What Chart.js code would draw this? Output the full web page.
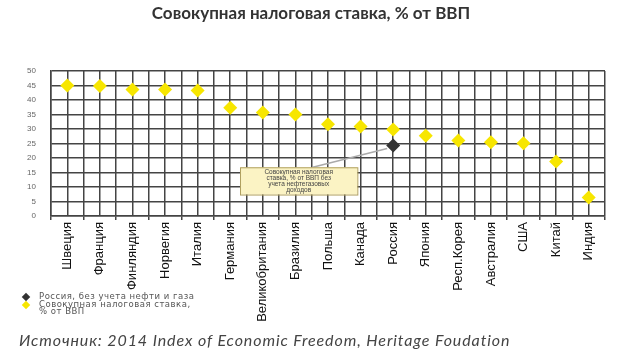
<!DOCTYPE html>
<html lang="ru">
<head>
<meta charset="UTF-8">
<title>Совокупная налоговая ставка</title>
<script src="https://cdn.jsdelivr.net/npm/chart.js"></script>
<style>
    body {
        margin: 0;
        padding: 0;
        background: #fff;
        font-family: "Liberation Sans", Arial, sans-serif;
    }
    .wrap {
        position: relative;
        width: 620px;
        height: 363px;
        overflow: hidden;
    }
    .title {
        position: absolute;
        left: 0;
        width: 622px;
        top: 2px;
        text-align: center;
        font-family: Lato, sans-serif;
        font-weight: bold;
        font-size: 17px;
        color: #333;
    }
    .legend {
        position: absolute;
        left: 18px;
        top: 293px;
        font-family: "DejaVu Sans", sans-serif;
        font-size: 8.5px;
        letter-spacing: 0.5px;
        color: #555;
        line-height: 7.5px;
    }
    .legend .item {
        position: relative;
        padding-left: 21px;
    }
    .legend .mark {
        position: absolute;
        left: 5px;
        top: 1px;
        width: 6px;
        height: 6px;
        transform: rotate(45deg);
    }
    .source {
        position: absolute;
        left: 19px;
        top: 330px;
        font-family: Lato, sans-serif;
        font-style: italic;
        font-size: 16px;
        letter-spacing: 0.9px;
        color: #444;
    }
    canvas {
        position: absolute;
        left: 0;
        top: 0;
    }
</style>
</head>
<body>
<div class="wrap">
    <canvas id="tax-chart" width="620" height="363"></canvas>
    <div class="title">Совокупная налоговая ставка, % от ВВП</div>
    <div class="legend">
        <div class="item"><span class="mark" style="background:#333"></span>Россия, без учета нефти и газа</div>
        <div class="item"><span class="mark" style="background:#f7e600"></span>Совокупная налоговая ставка,<br>% от ВВП</div>
    </div>
    <div class="source">Источник: 2014 Index of Economic Freedom, Heritage Foudation</div>
</div>

<script>
    // data
    const countries = ['Швеция', 'Франция', 'Финляндия', 'Норвегия', 'Италия', 'Германия',
        'Великобритания', 'Бразилия', 'Польша', 'Канада', 'Россия', 'Япония',
        'Респ.Корея', 'Австралия', 'США', 'Китай', 'Индия'];
    const taxRate = [45.0, 44.8, 43.6, 43.6, 43.3, 37.3, 35.7, 35.0, 31.6, 30.9, 29.8,
        27.7, 26.0, 25.4, 25.1, 18.8, 6.4];
    const russiaNoOil = [null, null, null, null, null, null, null, null, null, null, 24.3,
        null, null, null, null, null, null];
    const calloutLines = ['Совокупная налоговая', 'ставка, % от ВВП без', 'учета нефтегазовых', 'доходов'];

    // callout box with a leader line to the Russia point
    const callout = {
        id: 'callout',
        afterDatasetsDraw(chart) {
            const { ctx, scales } = chart;
            const x = scales.x, y = scales.y;
            const left = x.getPixelForValue(5.3), right = x.getPixelForValue(8.9);
            const top = y.getPixelForValue(16.8), bottom = y.getPixelForValue(7.4);
            const px = x.getPixelForValue(10), py = y.getPixelForValue(24.3);
            ctx.save();
            ctx.strokeStyle = '#aaa';
            ctx.lineWidth = 1.5;
            ctx.beginPath();
            ctx.moveTo(left + (right - left) * 0.62, top);
            ctx.lineTo(px - 6, py + 3);
            ctx.stroke();
            ctx.fillStyle = '#fbf3c4';
            ctx.strokeStyle = '#b0a060';
            ctx.lineWidth = 1;
            ctx.fillRect(left, top, right - left, bottom - top);
            ctx.strokeRect(left + 0.5, top + 0.5, right - left, bottom - top);
            ctx.fillStyle = '#444';
            ctx.font = '6.5px "Liberation Sans", sans-serif';
            ctx.textAlign = 'center';
            ctx.textBaseline = 'middle';
            calloutLines.forEach((t, i) => {
                ctx.fillText(t, (left + right) / 2, top + 5 + i * 6);
            });
            ctx.restore();
        }
    };

    const ctx = document.getElementById('tax-chart').getContext('2d');
    new Chart(ctx, {
        type: 'line',
        data: {
            labels: countries,
            datasets: [{
                label: 'Россия, без учета нефти и газа',
                data: russiaNoOil,
                showLine: false,
                pointStyle: 'rectRot',
                pointRadius: 7,
                pointBackgroundColor: '#333',
                pointBorderColor: '#333',
                pointBorderWidth: 0
            }, {
                label: 'Совокупная налоговая ставка, % от ВВП',
                data: taxRate,
                showLine: false,
                pointStyle: 'rectRot',
                pointRadius: 7,
                pointBackgroundColor: '#f7e600',
                pointBorderColor: '#f7e600',
                pointBorderWidth: 0
            }]
        },
        options: {
            responsive: false,
            animation: false,
            layout: { padding: { top: 71, right: 15, left: 0, bottom: 0 } },
            plugins: {
                legend: { display: false },
                tooltip: { enabled: false }
            },
            scales: {
                x: {
                    offset: true,
                    grid: { offset: true, color: '#444', lineWidth: 1.5, tickLength: 4 },
                    border: { color: '#444', width: 1.5 },
                    ticks: {
                        autoSkip: false,
                        minRotation: 90,
                        maxRotation: 90,
                        padding: 2,
                        color: '#111',
                        font: { family: '"Liberation Sans", sans-serif', size: 13 }
                    },
                    afterFit: s => { s.height = 147; }
                },
                x2: {
                    position: 'top',
                    offset: true,
                    grid: { offset: false, color: '#444', lineWidth: 1.5, drawTicks: false },
                    border: { display: false },
                    ticks: { display: false }
                },
                y: {
                    min: 0,
                    max: 50,
                    ticks: {
                        stepSize: 5,
                        padding: 15,
                        color: '#666',
                        font: { size: 8 }
                    },
                    grid: { color: '#444', lineWidth: 1.5, drawTicks: false },
                    border: { color: '#444', width: 1.5 },
                    afterFit: s => { s.width = 51; }
                }
            }
        },
        plugins: [callout]
    });
</script>
</body>
</html>
